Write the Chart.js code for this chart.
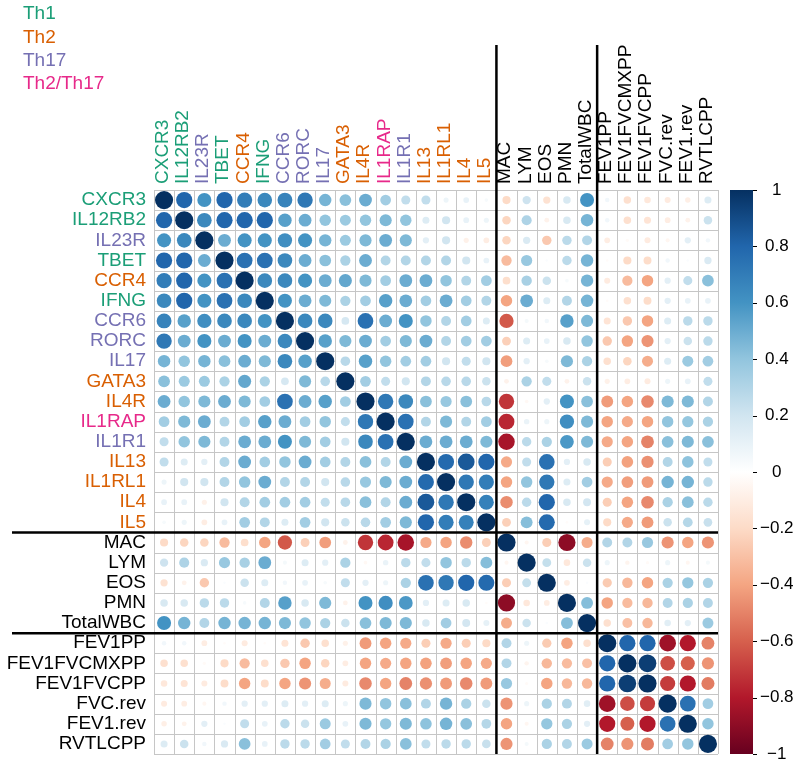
<!DOCTYPE html>
<html>
<head>
<meta charset="utf-8">
<script src="https://cdn.jsdelivr.net/npm/chart.js@4"></script>
<style>
  html, body { margin: 0; padding: 0; background: #fff; }
  #wrap { width: 800px; height: 768px; }
</style>
</head>
<body>
<div id="wrap"><canvas id="cv" width="800" height="768"></canvas></div>
<script>
// ── data ──────────────────────────────────────────────────
const VARS = ['CXCR3', 'IL12RB2', 'IL23R', 'TBET', 'CCR4', 'IFNG', 'CCR6', 'RORC', 'IL17',
  'GATA3', 'IL4R', 'IL1RAP', 'IL1R1', 'IL13', 'IL1RL1', 'IL4', 'IL5',
  'MAC', 'LYM', 'EOS', 'PMN', 'TotalWBC',
  'FEV1PP', 'FEV1FVCMXPP', 'FEV1FVCPP', 'FVC.rev', 'FEV1.rev', 'RVTLCPP'];

// group of each variable (index into GROUPS, -1 = none)
const VAR_GROUP = [0, 0, 2, 0, 1, 0, 2, 2, 2, 1, 1, 3, 2, 1, 1, 1, 1,
  -1, -1, -1, -1, -1, -1, -1, -1, -1, -1, -1];
const GROUPS = ['Th1', 'Th2', 'Th17', 'Th2/Th17'];
const GROUP_COLORS = ['#1b9e77', '#d95f02', '#7570b3', '#e7298a'];

// lower triangle of the correlation matrix, row i holds columns 0..i-1
const LOWER = [
  [],
  [0.80],
  [0.60, 0.65],
  [0.80, 0.80, 0.50],
  [0.70, 0.80, 0.60, 0.75],
  [0.65, 0.80, 0.60, 0.75, 0.65],
  [0.67, 0.55, 0.62, 0.65, 0.65, 0.60],
  [0.72, 0.50, 0.60, 0.50, 0.60, 0.50, 0.65],
  [0.47, 0.40, 0.47, 0.42, 0.50, 0.45, 0.65, 0.55],
  [0.42, 0.37, 0.37, 0.32, 0.52, 0.32, 0.18, 0.45, 0.28],
  [0.50, 0.40, 0.45, 0.50, 0.45, 0.35, 0.75, 0.50, 0.55, 0.35],
  [0.35, 0.45, 0.50, 0.30, 0.35, 0.55, 0.50, 0.35, 0.40, 0.25, 0.72],
  [0.25, 0.40, 0.45, 0.30, 0.50, 0.50, 0.60, 0.45, 0.35, 0.20, 0.65, 0.75],
  [0.25, 0.15, 0.12, 0.30, 0.50, 0.35, 0.40, 0.50, 0.35, 0.30, 0.42, 0.30, 0.50],
  [0.08, 0.20, 0.20, 0.30, 0.40, 0.50, 0.30, 0.30, 0.20, 0.28, 0.38, 0.45, 0.50, 0.78],
  [0.10, 0.10, -0.08, 0.20, 0.30, 0.35, 0.35, 0.35, 0.25, 0.28, 0.42, 0.30, 0.50, 0.85, 0.72],
  [0.04, 0.08, -0.10, 0.10, 0.35, 0.30, 0.15, 0.35, 0.20, 0.22, 0.28, 0.35, 0.45, 0.80, 0.70, 0.68],
  [-0.20, -0.22, -0.22, -0.32, -0.18, -0.40, -0.62, -0.24, -0.42, -0.07, -0.72, -0.76, -0.83, -0.38, -0.40, -0.47, -0.24],
  [0.21, 0.31, 0.16, 0.38, 0.33, 0.50, 0.05, 0.15, 0.12, 0.32, -0.04, 0.09, 0.27, 0.25, 0.40, 0.27, 0.43, -0.05],
  [-0.16, -0.07, -0.27, 0.02, 0.22, 0.15, 0.06, 0.10, 0.04, 0.25, 0.12, 0.08, 0.32, 0.75, 0.72, 0.80, 0.78, -0.25, 0.24],
  [0.17, 0.17, 0.27, 0.27, 0.04, 0.30, 0.55, 0.17, 0.45, -0.07, 0.60, 0.62, 0.58, 0.12, 0.15, 0.17, -0.02, -0.90, -0.13, -0.10],
  [0.60, 0.47, 0.30, 0.47, 0.47, 0.47, 0.45, 0.40, 0.32, 0.22, 0.42, 0.45, 0.45, 0.17, 0.35, 0.19, 0.11, -0.37, 0.22, 0.02, 0.43],
  [0.06, 0.06, -0.10, -0.02, -0.11, -0.02, -0.15, -0.27, -0.17, -0.08, -0.43, -0.40, -0.38, -0.25, -0.38, -0.25, -0.20, 0.30, 0.08, -0.26, -0.40, -0.17],
  [-0.17, -0.17, -0.03, -0.20, -0.32, -0.17, -0.27, -0.40, -0.22, -0.10, -0.40, -0.38, -0.40, -0.41, -0.42, -0.40, -0.38, 0.30, -0.06, -0.33, -0.32, -0.30, 0.80],
  [-0.13, -0.15, -0.11, -0.19, -0.40, -0.19, -0.40, -0.45, -0.37, -0.11, -0.48, -0.40, -0.50, -0.46, -0.43, -0.48, -0.43, 0.38, -0.03, -0.40, -0.33, -0.33, 0.80, 0.95],
  [-0.11, -0.10, -0.05, 0.06, 0.12, 0.12, 0.15, 0.12, 0.15, 0.08, 0.45, 0.40, 0.42, 0.30, 0.47, 0.32, 0.22, -0.45, 0.08, 0.32, 0.30, 0.13, -0.85, -0.65, -0.70],
  [-0.09, -0.07, 0.12, 0.02, 0.25, 0.10, 0.27, 0.22, 0.37, 0.10, 0.45, 0.39, 0.45, 0.41, 0.47, 0.42, 0.29, -0.40, -0.05, 0.39, 0.32, 0.12, -0.80, -0.60, -0.80, 0.75],
  [0.15, 0.22, 0.06, 0.16, 0.42, 0.10, 0.27, 0.27, 0.35, 0.25, 0.30, 0.32, 0.42, 0.25, 0.27, 0.27, 0.23, -0.45, 0.05, 0.32, 0.30, 0.37, -0.50, -0.45, -0.52, 0.35, 0.40]
];

const BLOCK_BREAKS = [17, 22];   // thick separators before these indices
const CB_TICKS = [-1, -0.8, -0.6, -0.4, -0.2, 0, 0.2, 0.4, 0.6, 0.8, 1];
const RDBU = ['#67001F', '#B2182B', '#D6604D', '#F4A582', '#FDDBC7', '#FFFFFF',
  '#D1E5F0', '#92C5DE', '#4393C3', '#2166AC', '#053061'];

// ── helpers ───────────────────────────────────────────────
const corr = (i, j) => i === j ? 1 : (i > j ? LOWER[i][j] : LOWER[j][i]);

const hex = h => [1, 3, 5].map(k => parseInt(h.slice(k, k + 2), 16));
function colorFor(v) {
  const t = Math.max(0, Math.min(1, (v + 1) / 2)) * (RDBU.length - 1);
  const k = Math.min(RDBU.length - 2, Math.floor(t));
  const f = t - k;
  const a = hex(RDBU[k]), b = hex(RDBU[k + 1]);
  const c = a.map((x, n) => Math.round(x + (b[n] - x) * f));
  return `rgb(${c[0]},${c[1]},${c[2]})`;
}
const labelColor = i => VAR_GROUP[i] >= 0 ? GROUP_COLORS[VAR_GROUP[i]] : '#000';
const fmt = v => v === 0 ? '0' : (v < 0 ? '\u2212' : '') + String(Math.abs(Math.round(v * 10) / 10));

const points = [];
VARS.forEach((_, i) => VARS.forEach((__, j) => points.push({ x: j, y: i, v: corr(i, j) })));

const FONT = "'Liberation Sans', Arial, Helvetica, sans-serif";
const LABEL_SIZE = 19;
const N = VARS.length;

// ── decorations: cell grid, block separators, colour bar, group legend ──
const decor = {
  id: 'decor',
  beforeDatasetsDraw(chart) {
    const { ctx, scales: { x, y } } = chart;
    ctx.save();
    ctx.strokeStyle = '#c6c6c6';
    ctx.lineWidth = 1;
    ctx.beginPath();
    for (let k = 0; k <= N; k++) {
      const px = Math.round(x.getPixelForValue(k - 0.5)) + 0.5;
      const py = Math.round(y.getPixelForValue(k - 0.5)) + 0.5;
      ctx.moveTo(px, y.getPixelForValue(-0.5)); ctx.lineTo(px, y.getPixelForValue(N - 0.5));
      ctx.moveTo(x.getPixelForValue(-0.5), py); ctx.lineTo(x.getPixelForValue(N - 0.5), py);
    }
    ctx.stroke();
    ctx.restore();
  },
  afterDatasetsDraw(chart) {
    const { ctx, scales: { x, y, cb } } = chart;
    ctx.save();
    // block separators
    ctx.strokeStyle = '#000';
    ctx.lineWidth = 2.5;
    BLOCK_BREAKS.forEach(b => {
      const px = x.getPixelForValue(b - 0.5), py = y.getPixelForValue(b - 0.5);
      ctx.beginPath();
      ctx.moveTo(px, 45); ctx.lineTo(px, y.getPixelForValue(N - 0.5));
      ctx.moveTo(12, py); ctx.lineTo(x.getPixelForValue(N - 0.5), py);
      ctx.stroke();
    });
    // colour bar
    const top = cb.getPixelForValue(1), bot = cb.getPixelForValue(-1);
    const g = ctx.createLinearGradient(0, bot, 0, top);
    RDBU.forEach((c, k) => g.addColorStop(k / (RDBU.length - 1), c));
    ctx.fillStyle = g;
    ctx.fillRect(730, top, 23, bot - top);
    ctx.strokeStyle = '#000';
    ctx.lineWidth = 1;
    ctx.beginPath();
    CB_TICKS.forEach(t => {
      const py = Math.round(cb.getPixelForValue(t)) + 0.5;
      ctx.moveTo(753, py); ctx.lineTo(757, py);
    });
    ctx.stroke();
    // group legend
    ctx.font = `${LABEL_SIZE}px ${FONT}`;
    ctx.textAlign = 'left';
    ctx.textBaseline = 'middle';
    GROUPS.forEach((name, k) => {
      ctx.fillStyle = GROUP_COLORS[k];
      ctx.fillText(name, 23, 14 + k * 23.3);
    });
    ctx.restore();
  }
};

const catTicks = s => { s.ticks = VARS.map((_, i) => ({ value: i })); };

const chart = new Chart(document.getElementById('cv'), {
  type: 'bubble',
  data: {
    datasets: [{
      data: points,
      backgroundColor: points.map(p => colorFor(p.v)),
      borderWidth: 0,
      radius: 0
    }]
  },
  options: {
    responsive: false,
    devicePixelRatio: 1,
    animation: false,
    events: [],
    layout: { autoPadding: false, padding: { left: 0, top: 0, right: 0, bottom: 14 } },
    plugins: { legend: { display: false }, tooltip: { enabled: false } },
    scales: {
      x: {
        type: 'linear', position: 'top', min: -0.5, max: N - 0.5,
        afterBuildTicks: catTicks,
        afterFit: s => { s.height = 190; },
        grid: { display: false, drawTicks: false },
        border: { display: false },
        ticks: {
          autoSkip: false, maxRotation: 90, minRotation: 90, padding: 6,
          labelOffset: LABEL_SIZE * 1.2 - 1.3,
          font: { family: FONT, size: LABEL_SIZE },
          color: ctx => labelColor(ctx.index),
          callback: v => VARS[v]
        }
      },
      y: {
        type: 'linear', position: 'left', reverse: true, min: -0.5, max: N - 0.5,
        afterBuildTicks: catTicks,
        afterFit: s => { s.width = 154; },
        grid: { display: false, drawTicks: true, tickLength: 6 },
        border: { display: false },
        ticks: {
          autoSkip: false, padding: 2,
          font: { family: FONT, size: LABEL_SIZE },
          color: ctx => labelColor(ctx.index),
          callback: v => VARS[v]
        }
      },
      cb: {
        type: 'linear', position: 'right', min: -1, max: 1,
        afterBuildTicks: s => { s.ticks = CB_TICKS.map(v => ({ value: v })); },
        afterFit: s => { s.width = 82; },
        grid: { display: false, drawTicks: true, tickLength: 40 },
        border: { display: false },
        ticks: {
          autoSkip: false, crossAlign: 'center', padding: 2,
          font: { family: FONT, size: 17 },
          color: '#000',
          callback: v => fmt(v)
        }
      }
    }
  },
  plugins: [decor]
});

// circle size follows corrplot: diameter = 0.9 * cell * sqrt(|r|), cell taken from the x scale
const xs = chart.scales.x;
const cell = Math.abs(xs.getPixelForValue(1) - xs.getPixelForValue(0));
chart.data.datasets[0].data = points.map(p => ({ ...p, r: 0.45 * cell * Math.sqrt(Math.abs(p.v)) }));
chart.update();
</script>
</body>
</html>
